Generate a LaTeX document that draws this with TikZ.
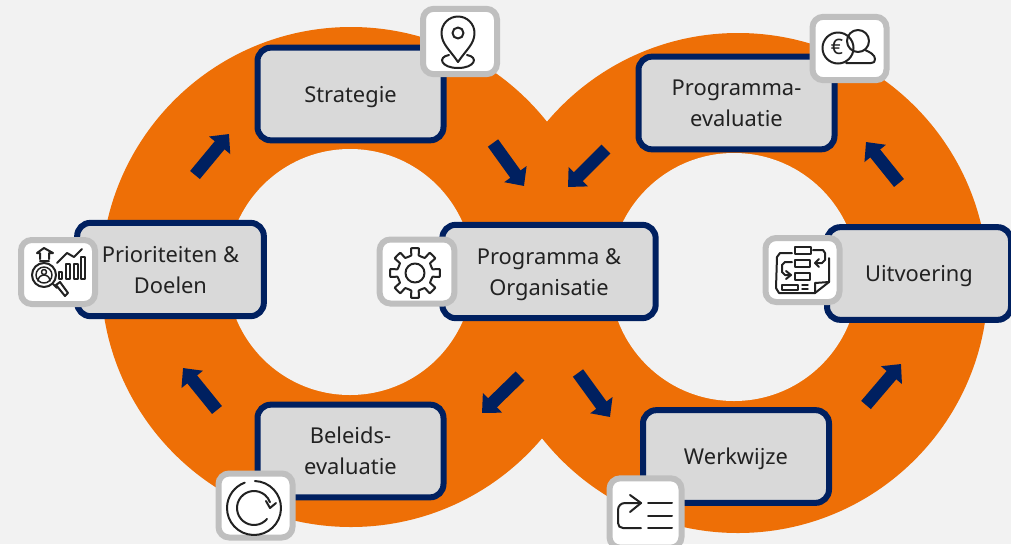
\documentclass[tikz,border=0pt]{standalone}
\usepackage{fontspec}
\setmainfont{Noto Sans}
\usetikzlibrary{arrows.meta,calc}
\definecolor{bgc}{HTML}{F2F2F2}
\definecolor{orangec}{HTML}{EE6F06}
\definecolor{navyc}{HTML}{002060}
\definecolor{boxc}{HTML}{D9D9D9}
\definecolor{iconb}{HTML}{BFBFBF}
\definecolor{inkc}{HTML}{222222}
\newcommand{\topst}{\rule{0pt}{17pt}}
\newcommand{\botst}{\rule[-5pt]{0pt}{0pt}}
\tikzset{
  stage/.style={draw=navyc,fill=boxc,line width=4.5pt,rounded corners=10pt,align=center,inner sep=0pt,text=inkc,font=\fontsize{16.4pt}{23.25pt}\selectfont},
  iconbox/.style={draw=iconb,fill=white,line width=4.5pt,rounded corners=8pt,inner sep=0pt},
  flow/.style={line width=9.5pt,draw=navyc,-{Triangle[width=20pt,length=11pt]}},
  ink/.style={draw=inkc,line width=1.5pt,line cap=round,line join=round},
  thin ink/.style={draw=inkc,line width=1.1pt,line cap=round,line join=round}
}
\begin{document}
\begin{tikzpicture}[x=0.75pt,y=-0.75pt]
\useasboundingbox (0,0) rectangle (1011,544);
\clip (0,0) rectangle (1011,544);
\fill[bgc] (0,0) rectangle (1011,544);
% rings
\fill[orangec] (351,277) circle [radius=250];
\fill[orangec] (738,283) circle [radius=250];
\fill[bgc] (350,272) circle [radius=123];
\fill[bgc] (734,277) circle [radius=124];
% stages
\node[stage,minimum width=139.5pt,minimum height=69.5pt] (s) at (350.5,94) {\topst Strategie\botst};
\node[stage,minimum width=140pt,minimum height=70pt] (p) at (170.5,269.5) {\topst Prioriteiten \&\\Doelen\botst};
\node[stage,minimum width=160pt,minimum height=70pt] (c) at (549,271.5) {\topst Programma \&\\Organisatie\botst};
\node[stage,minimum width=139.5pt,minimum height=69.5pt] (b) at (350.5,451) {\topst Beleids-\\evaluatie\botst};
\node[stage,minimum width=139.5pt,minimum height=69.5pt] (w) at (736,456.5) {\topst Werkwijze\botst};
\node[stage,minimum width=147pt,minimum height=69.5pt] (e) at (736.5,103) {\topst Programma-\\evaluatie\botst};
\node[stage,minimum width=138pt,minimum height=69.5pt] (u) at (919,273.5) {\topst Uitvoering\botst};
% arrows
\coordinate (a1) at (195,175); \coordinate (a2) at (229,134);
\coordinate (b1) at (493,143); \coordinate (b2) at (524,186);
\coordinate (c1) at (606,149); \coordinate (c2) at (568,187);
\coordinate (d1) at (520,376); \coordinate (d2) at (482,413);
\coordinate (f1) at (578,373); \coordinate (f2) at (610,417);
\coordinate (g1) at (217,410); \coordinate (g2) at (183,368);
\coordinate (h1) at (866,405); \coordinate (h2) at (901,364);
\coordinate (i1) at (899,183); \coordinate (i2) at (866,142);
\foreach \p/\q in {a1/a2,b1/b2,c1/c2,d1/d2,f1/f2,g1/g2,h1/h2,i1/i2}
  \draw[flow] (\p) -- (\q);
% icon boxes
\node[iconbox,minimum width=55.5pt,minimum height=49pt] (ip) at (460,41.5) {};
\node[iconbox,minimum width=55.5pt,minimum height=47.5pt] (ie) at (849.5,48.5) {};
\node[iconbox,minimum width=56pt,minimum height=48pt] (ig) at (417,271.5) {};
\node[iconbox,minimum width=55.5pt,minimum height=48pt] (iu) at (802.5,270) {};
\node[iconbox,minimum width=55.5pt,minimum height=48pt] (ih) at (58,272) {};
\node[iconbox,minimum width=55.5pt,minimum height=48pt] (ib) at (255.5,505.5) {};
\node[iconbox,minimum width=54pt,minimum height=52pt] (iw) at (645.5,513) {};
% pin
\draw[ink] (458,62) .. controls (450,50) and (441.5,44) .. (441.5,33) arc[start angle=180,end angle=360,radius=16.5] .. controls (474.5,44) and (466,50) .. (458,62);
\draw[ink] (458,33) circle [radius=5.5];
\draw[ink] (449,55) .. controls (437,57) and (441,68) .. (458,68) .. controls (475,68) and (479,57) .. (467,55);
% euro
\draw[ink] (838,48) circle [radius=15.5];
\draw[ink] (858,41) circle [radius=11];
\draw[ink] (865,50) .. controls (870,52) and (875,55) .. (875,59) .. controls (875,62) and (874,63) .. (871,63) -- (846,63);
\node[text=inkc,inner sep=0pt,font=\fontsize{16pt}{16pt}\selectfont] (eur) at (837,47) {€};
% gear
\draw[ink] (415,273) circle [radius=9.5];
\begin{scope}[shift={(415,273)}]
\draw[ink] plot[smooth cycle,tension=0.15] coordinates {
  (-12:18) (-9:25) (9:25) (12:18)
  (33:18) (36:25) (54:25) (57:18)
  (78:18) (81:25) (99:25) (102:18)
  (123:18) (126:25) (144:25) (147:18)
  (168:18) (171:25) (189:25) (192:18)
  (213:18) (216:25) (234:25) (237:18)
  (258:18) (261:25) (279:25) (282:18)
  (303:18) (306:25) (324:25) (327:18)};
\end{scope}
% process document
\draw[ink] (795,247) rectangle (811,254);
\draw[ink] (795,260) rectangle (810,267);
\draw[ink] (795,273) rectangle (810,280);
\draw[ink] (792,253) -- (780,253) -- (777,257) -- (776,288) -- (779,293) -- (815,293) -- (829,282) -- (829,258);
\draw[ink] (815,293) -- (815,283) -- (829,282);
\draw[ink] (813,250) -- (823,250) -- (825,253) -- (825,260) -- (822,263) -- (815,263);
\draw[ink] (819,259) -- (815,263) -- (819,267);
\draw[ink] (792,262) -- (785,262) -- (782,265) -- (782,272) -- (785,275) -- (790,275);
\draw[ink] (786,271) -- (791,275) -- (786,279);
\draw[ink] (782,285) rectangle (798,290);
\draw[thin ink] (802,285) -- (808,285) (802,289) -- (808,289);
% prior icon
\draw[ink] (37,253) -- (44,248) -- (53,253) -- (49,253) -- (49,259) (37,253) -- (40,253) -- (40,259) (40,261) -- (49,261);
\draw[ink] (57,263) -- (67,253) -- (74,257) -- (82,249);
\draw[thin ink] (59,272) rectangle (62,279) (66,264) rectangle (70,279) (74,264) rectangle (78,279) (81,257) rectangle (85,279);
\fill[white] (44,275) circle [radius=12];
\draw[ink] (44,275) circle [radius=12];
\draw[thin ink] (44,275) circle [radius=8];
\draw[thin ink] (44,272) circle [radius=2.5];
\draw[thin ink] (38,281) arc[start angle=180,end angle=360,radius=6];
\draw[ink] (53,284) -- (57,288);
\draw[ink] (56,285) -- (65,296) -- (68,293) -- (60,282) -- cycle;
% beleids icon
\draw[ink] (254,508) ++(-88:27) arc[start angle=-88,end angle=250,radius=27];
\draw[ink] (254,508) ++(40:17) arc[start angle=40,end angle=340,radius=17];
\draw[ink] (266,501) -- (270,508) -- (276,503);
% werkwijze icon
\draw[ink] (641,528) -- (623,528) .. controls (620,528) and (618,526) .. (618,523) -- (618,510) .. controls (618,506) and (621,503) .. (625,503) -- (641,503);
\draw[ink] (630,495) -- (641,503) -- (630,512);
\draw[ink] (648,503) -- (672,503) (648,516) -- (672,516) (648,528) -- (672,528);
\end{tikzpicture}
\end{document}
